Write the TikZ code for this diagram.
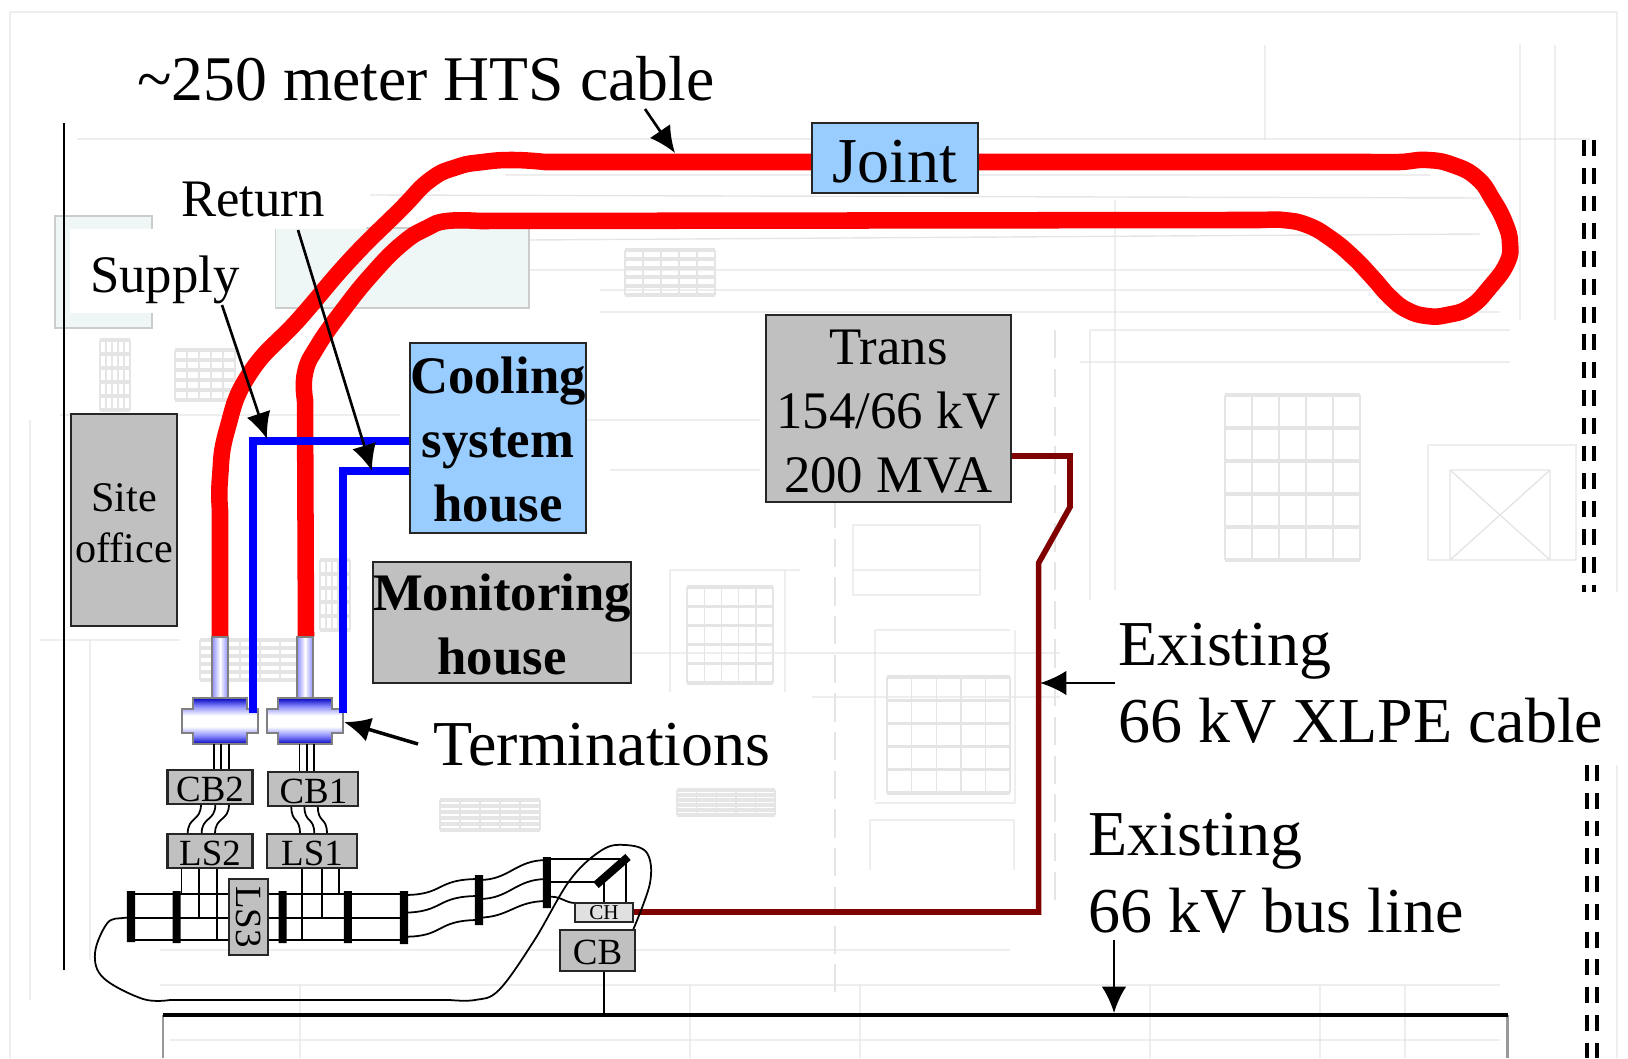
\documentclass[tikz,border=0pt]{standalone}
\usepackage{fontspec}
\setmainfont{Liberation Serif}
\usetikzlibrary{arrows.meta}

\definecolor{housefill}{RGB}{153,204,255}
\definecolor{boxfill}{RGB}{192,192,192}
\definecolor{paleteal}{RGB}{238,246,246}
\pgfdeclareverticalshading{termshade}{100bp}{color(0bp)=(blue!75!black); color(25bp)=(blue!75!black); color(34bp)=(blue!45!white); color(44bp)=(white); color(56bp)=(white); color(66bp)=(blue!45!white); color(75bp)=(blue!75!black); color(100bp)=(blue!75!black)}

\begin{document}
\begin{tikzpicture}[x=0.01cm,y=-0.01cm]

    \tikzstyle{ghost}=[draw=gray!20, line width=0.4pt]
    \tikzstyle{mask}=[fill=white, draw=none]
    \tikzstyle{graybox}=[rectangle, draw=black!85, fill=boxfill, line width=0.6pt, inner sep=0pt, align=center]
    \tikzstyle{bluebox}=[graybox, fill=housefill]
    \tikzstyle{bigtext}=[font=\fontsize{18.2}{21.9}\selectfont, inner sep=0pt, align=left]
    \tikzstyle{midtext}=[font=\fontsize{15}{18.2}\selectfont, inner sep=0pt]
    \tikzstyle{boldtext}=[font=\fontsize{15}{18.2}\selectfont\bfseries]
    \tikzstyle{smalltext}=[font=\fontsize{10.5}{12}\selectfont]
    \tikzstyle{hts}=[draw=red, line width=4.7pt]
    \tikzstyle{returnline}=[draw=blue, line width=2.3pt]
    \tikzstyle{xlpe}=[draw=black!50!red, line width=1.6pt]
    \tikzstyle{wire}=[draw=black, line width=0.5pt]
    \tikzstyle{busbar}=[draw=black, line width=2.3pt]
    \tikzstyle{pointer}=[draw=black, line width=0.75pt, -{Latex[length=7.5pt,width=7pt]}]
    \tikzstyle{rail}=[draw=black, line width=1pt, dash pattern=on 4.5pt off 3.4pt]
    \tikzset{pushdown/.style={execute at begin node={\rule{0pt}{#1}}}}

    \useasboundingbox (0,0) rectangle (1628,1058);

    \draw[ghost] (10,12)     -- (1617,12)
                 (10,12)     -- (10,1058)
                 (30,420)    -- (30,1000)
                 (1617,12)   -- (1617,1058)
                 (77,139)    -- (1590,139)
                 (505,175)   -- (1430,175)
                 (370,195)   -- (1480,198)
                 (530,240)   -- (1480,234)
                 (530,270)   -- (1500,270)
                 (600,290)   -- (1500,290)
                 (600,312)   -- (1500,312)
                 (1090,330)  -- (1510,330)
                 (1080,362)  -- (1510,362)
                 (60,415)    -- (400,415)
                 (1090,330)  -- (1090,600)
                 (1115,200)  -- (1115,590)
                 (1265,45)   -- (1265,140)
                 (1520,45)   -- (1520,320)
                 (1555,45)   -- (1555,320)
                 (580,420)   -- (760,420)
                 (610,470)   -- (760,470)
                 (630,653)   -- (1060,653)
                 (810,697)   -- (1060,697)
                 (853,525)   -- (980,525)
                 (853,570)   -- (980,570)
                 (853,595)   -- (980,595)
                 (853,525)   -- (853,595)
                 (980,525)   -- (980,595)
                 (670,570)   -- (800,570)
                 (670,570)   -- (670,692)
                 (785,570)   -- (785,692)
                 (875,630)   -- (1010,630)
                 (875,630)   -- (875,800)
                 (875,803)   -- (1015,803)
                 (1015,630)  -- (1015,803)
                 (870,820)   -- (1014,820)
                 (870,820)   -- (870,870)
                 (1014,820)  -- (1014,870)
                 (160,950)   -- (1010,950)
                 (160,985)   -- (1500,985)
                 (170,1040)  -- (1500,1040)
                 (300,985)   -- (300,1058)
                 (690,985)   -- (690,1058)
                 (860,985)   -- (860,1058)
                 (1150,985)  -- (1150,1058)
                 (1320,985)  -- (1320,1058)
                 (1405,985)  -- (1405,1058)
                 (90,640)    -- (90,960)
                 (40,640)    -- (180,640);

    \draw[ghost, dash pattern=on 8pt off 3pt] (835,500)  -- (835,1000)
                                              (1055,330) -- (1055,900);

    \foreach \gx/\gy/\gw/\gh in {687/587/86/96, 887/677/123/116, 1225/395/135/165, 677/790/98/25, 625/250/90/45, 100/340/30/70, 175/350/60/50, 320/560/30/70, 200/640/100/40, 440/800/100/30}
        \foreach \i in {0,...,5} {
            \draw[ghost, line width=0.9pt] (\gx,{\gy+\i*\gh/5}) -- +(\gw,0);
            \draw[ghost] ({\gx+\i*\gw/5},\gy) -- +(0,\gh);
        }

    \draw[ghost] (1428,445) rectangle (1576,560)
                 (1450,470) rectangle (1550,560)
                 (1450,470) -- (1550,560)
                 (1550,470) -- (1450,560);

    \filldraw[draw=gray!40, fill=paleteal] (55,216)  rectangle (152,328)
                                           (275,228) rectangle (529,308);

    \fill[mask] (70,229)   rectangle (275,313)
                (162,175)  rectangle (366,229)
                (412,692)  rectangle (812,788)
                (1098,592) rectangle (1628,765)
                (1064,782) rectangle (1507,955);

    \draw[rail] (1584,140) -- (1584,592)
                (1594,140) -- (1594,592)
                (1587,765) -- (1587,1058)
                (1597,765) -- (1597,1058);

    \draw[draw=black, line width=0.5pt] (64,123) -- (64,970);

    \coordinate (stemtwo)  at (220,637);
    \coordinate (stemone)  at (306,637);
    \coordinate (jointin)  at (812,162);
    \coordinate (jointout) at (979,162);

    \draw[hts] (stemtwo) -- plot[smooth, tension=0.8] coordinates {(220,510) (220,478) (227,430) (250,373) (300,318) (350,260) (400,210) (430,180) (457,167) (483,162) (513,160) (545,162)} -- (jointin);
    \draw[hts] (jointout) -- plot[smooth, tension=0.8] coordinates {(1370,162) (1400,162) (1427,160) (1453,165) (1477,178) (1493,200) (1505,223) (1510,243) (1507,263) (1490,287) (1470,307) (1447,315) (1427,316) (1407,310) (1390,297) (1373,278) (1353,257) (1330,238) (1307,225) (1283,220) (1260,220) (1240,220)}
                          -- plot[smooth, tension=0.8] coordinates {(480,221) (447,221) (427,228) (403,243) (373,273) (343,310) (317,347) (305,373) (305,400)} -- (stemone);

    \foreach \tx in {220,305} {
        \begin{scope}[shift={(\tx,0)}]
            \filldraw[draw=gray, line width=0.6pt, left color=blue!45, right color=blue!45, middle color=white]
                (-8,637) rectangle (8,698);
            \shadedraw[draw=gray, line width=0.6pt, shading=termshade]
                (-27,698) -- (27,698) -- (27,709) -- (38,709) -- (38,733) -- (27,733) -- (27,744)
                -- (-27,744) -- (-27,733) -- (-38,733) -- (-38,709) -- (-27,709) -- cycle;
        \end{scope}
    }

    \node[bluebox, boldtext, minimum width=1.74cm, minimum height=1.9cm] (cooling) at (498,438) {\rule{0pt}{11.5pt}Cooling\\system\\house};
    \node[bluebox, font=\fontsize{18.2}{21.9}\selectfont, pushdown=14pt, minimum width=1.665cm, minimum height=0.7cm] (joint) at (895,158) {Joint};
    \node[graybox, midtext, align=center, minimum width=2.45cm, minimum height=1.87cm] (trans) at (888.5,408.5) {\rule{0pt}{11.6pt}Trans\\154/66 kV\\200 MVA};
    \node[graybox, boldtext, minimum width=2.575cm, minimum height=1.21cm] (monitoring) at (502,622.5) {\rule{0pt}{11.5pt}Monitoring\\house};
    \node[graybox, font=\fontsize{12}{14.5}\selectfont, minimum width=1.065cm, minimum height=2.12cm] (site) at (124,520) {\rule{0pt}{9.9pt}Site\\office};

    \draw[returnline] (252.6,713) -- (252.6,441) -- (cooling.west |- 0,441)
                      (343,713)   -- (343,471)   -- (cooling.west |- 0,471);

    \coordinate (xlpestart) at (632,912);
    \draw[xlpe] (trans.east |- 0,456) -- (1070,456) -- (1070,507) -- (1038.6,563) -- (1038.6,912) -- (xlpestart);

    \draw[wire] (214.2,744) -- (214.2,770)
                (221.3,744) -- (221.3,770)
                (228.8,744) -- (228.8,770)
                (299.6,744) -- (299.6,772)
                (306.7,744) -- (306.7,772)
                (313.9,744) -- (313.9,772);

    \draw[wire] (201,804)   .. controls (201,822)   and (187.7,816) .. (187.7,834)
                (215.4,804) .. controls (215.4,822) and (201.6,816) .. (201.6,834)
                (229,804)   .. controls (229,822)   and (215,816)   .. (215,834)
                (291.3,806) .. controls (291.3,824) and (300,816)   .. (300,834)
                (304.4,806) .. controls (304.4,824) and (314.3,816) .. (314.3,834)
                (317.8,806) .. controls (317.8,824) and (327,816)   .. (327,834);

    \draw[wire] (181.4,868) -- (181.4,894)
                (199.2,868) -- (199.2,918)
                (217,868)   -- (217,940)
                (302,868)   -- (302,940)
                (321.8,868) -- (321.8,918)
                (338.8,868) -- (338.8,894)
                (131,894)   -- (404,894)
                (131,918)   -- (404,918)
                (131,940)   -- (404,940);

    \draw[wire] (404,895)   .. controls (445,895) and (435,879) .. (479,879)
                (404,912.7) .. controls (445,912) and (435,896) .. (479,896)
                (404,936.7) .. controls (445,937) and (435,920) .. (479,920)
                (479,880)   .. controls (510,880) and (515,860) .. (547,860)
                (479,899)   .. controls (510,899) and (515,879) .. (547,879)
                (479,917.7) .. controls (510,917) and (515,901) .. (547,901)
                (547,859)   -- (626,859) -- (626,903)
                (547,882)   -- (594.6,882)
                (604,878)   -- (604,903)
                (547,897)   .. controls (560,895) and (565,903) .. (575,903);

    \draw[busbar] (131,891)   -- (131,942)
                  (176.6,891) -- (176.6,943)
                  (282.6,891) -- (282.6,943)
                  (347.9,891) -- (347.9,943)
                  (404,891)   -- (404,944)
                  (479,875)   -- (479,925)
                  (546.8,857) -- (546.8,908)
                  (596,885)   -- (628,857);

    \draw[wire] plot[smooth, tension=0.6] coordinates {(131,918) (123,918) (107.4,923) (95,953) (103.5,978) (143,999) (170,1000)}
                -- plot[smooth, tension=0.6] coordinates {(450,1000) (475,1000) (499,990) (534.5,940) (570,880) (602,850) (625.5,845) (647,853) (650,883) (633,930)};

    \node[graybox, smalltext, pushdown=8.2pt, minimum width=0.85cm, minimum height=0.34cm] (cbtwo) at (210,787)   {CB2};
    \node[graybox, smalltext, pushdown=8.2pt, minimum width=0.9cm,  minimum height=0.34cm] (cbone) at (313.4,789) {CB1};
    \node[graybox, smalltext, pushdown=8.2pt, minimum width=0.85cm, minimum height=0.34cm] (lstwo) at (210,851)   {LS2};
    \node[graybox, smalltext, pushdown=8.2pt, minimum width=0.9cm,  minimum height=0.34cm] (lsone) at (312,851)   {LS1};
    \node[graybox, smalltext, minimum width=0.76cm, minimum height=0.385cm, rotate=-90] (lsthree) at (248.3,917)  {LS3};
    \node[graybox, smalltext, pushdown=8.2pt, minimum width=0.75cm, minimum height=0.41cm] (cb) at (597.5,950.5)  {CB};
    \node[graybox, fill=black!12, font=\fontsize{6}{7}\selectfont, minimum width=0.575cm, minimum height=0.19cm] (ch) at (604,912.5) {CH};

    \draw[wire] (cb.south -| 604,0) -- (604,1015);

    \draw[draw=gray!80, line width=0.8pt] (163,1015)    -- (163,1058)
                                          (1507.5,1015) -- (1507.5,1058);
    \draw[draw=black, line width=1.4pt] (163,1015) -- (1507.5,1015);

    \node[bigtext, font=\fontsize{18.1}{21.9}\selectfont, anchor=base west] (title)  at (136.6,100.5) {\textasciitilde 250 meter HTS cable};
    \node[midtext, anchor=base west] (return) at (180.5,216.5) {Return};
    \node[midtext, anchor=base west] (supply) at (89.5,292.5)  {Supply};
    \node[bigtext, anchor=base west] (terminations) at (433,765) {Terminations};
    \node[bigtext, anchor=west] (existingcable) at (1117.4,683) {Existing\\66 kV XLPE cable};
    \node[bigtext, anchor=west] (existingbus)   at (1088,873)   {Existing\\66 kV bus line};

    \coordinate (titletail)  at (645,109);
    \coordinate (titletip)   at (675,153);
    \coordinate (supplytail) at (222,305);
    \coordinate (supplytip)  at (267,439);
    \coordinate (returntail) at (298,230);
    \coordinate (returntip)  at (372,471);
    \coordinate (termtail)   at (418,744);
    \coordinate (termtip)    at (344,722);
    \coordinate (cabletail)  at (1115,683);
    \coordinate (cabletip)   at (1040,683);
    \coordinate (bustail)    at (1114,940);
    \coordinate (bustip)     at (1114,1013);

    \draw[pointer] (titletail)  -- (titletip);
    \draw[pointer] (supplytail) -- (supplytip);
    \draw[pointer] (returntail) -- (returntip);
    \draw[pointer, line width=1pt] (termtail) -- (termtip);
    \draw[pointer] (cabletail)  -- (cabletip);
    \draw[pointer] (bustail)    -- (bustip);

\end{tikzpicture}
\end{document}
